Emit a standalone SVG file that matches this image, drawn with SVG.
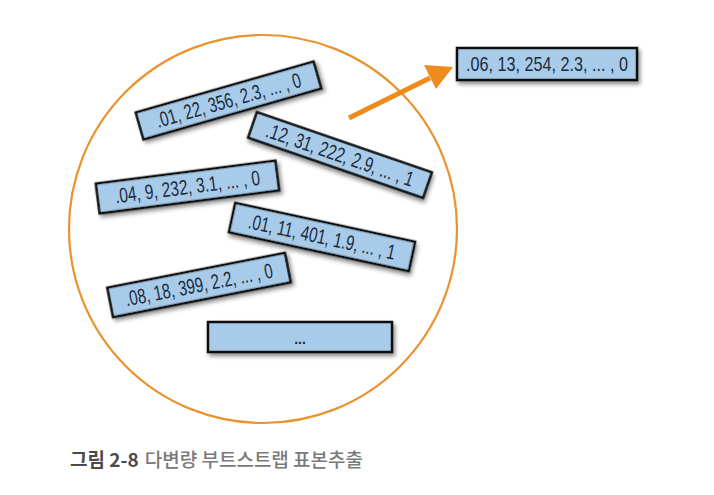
<svg xmlns="http://www.w3.org/2000/svg" width="714" height="495" viewBox="0 0 714 495">
<style>
.box{fill:#a8cbea;stroke:#111;stroke-width:2.5;filter:url(#sh)}
.lbl{font-family:"Liberation Sans Narrow","Liberation Sans",sans-serif;font-size:21px;fill:#1d2a3a;text-anchor:middle}
.cap1{font-family:"Noto Sans CJK KR","Noto Sans",sans-serif;font-size:19px;font-weight:700;fill:#4a4a4a}
.cap2{font-family:"Noto Sans CJK KR","Noto Sans",sans-serif;font-size:19px;font-weight:500;fill:#7a7a7a}
</style>
<defs>
<filter id="sh" x="-20%" y="-50%" width="140%" height="200%">
<feDropShadow dx="2" dy="3" stdDeviation="2" flood-color="#000" flood-opacity="0.45"/>
</filter>
</defs>
<rect width="714" height="495" fill="#fff"/>
<circle cx="263" cy="229" r="194" fill="none" stroke="#e9922e" stroke-width="2.2"/>
<g id="connectors">
<line x1="349" y1="118" x2="430" y2="78" stroke="#ef8a1c" stroke-width="5"/>
<path d="M453,67 L424,65 L436,89 Z" fill="#ef8a1c"/>
</g>
<g id="n1" transform="translate(228.5,100.5) rotate(-16)">
<rect class="box" x="-92.5" y="-14" width="185" height="28"/>
<text class="lbl" x="0" y="7" textLength="150" lengthAdjust="spacingAndGlyphs">.01, 22, 356, 2.3, ... , 0</text>
</g>
<g id="n2" transform="translate(340,155) rotate(19)">
<rect class="box" x="-92.5" y="-13.5" width="185" height="27"/>
<text class="lbl" x="0" y="7" textLength="155" lengthAdjust="spacingAndGlyphs">.12, 31, 222, 2.9, ... , 1</text>
</g>
<g id="n3" transform="translate(187.5,187) rotate(-7.3)">
<rect class="box" x="-90.5" y="-15" width="181" height="30"/>
<text class="lbl" x="0" y="7" textLength="146" lengthAdjust="spacingAndGlyphs">.04, 9, 232, 3.1, ... , 0</text>
</g>
<g id="n4" transform="translate(322,237) rotate(12.2)">
<rect class="box" x="-92" y="-15" width="184" height="30"/>
<text class="lbl" x="0" y="7" textLength="150" lengthAdjust="spacingAndGlyphs">.01, 11, 401, 1.9, ... , 1</text>
</g>
<g id="n5" transform="translate(199,285) rotate(-11.1)">
<rect class="box" x="-90.5" y="-15" width="181" height="30"/>
<text class="lbl" x="0" y="7" textLength="150" lengthAdjust="spacingAndGlyphs">.08, 18, 399, 2.2, ... , 0</text>
</g>
<g id="n6">
<rect class="box" x="208" y="322" width="184" height="30"/>
<text class="lbl" x="300" y="344" style="font-size:14px;font-weight:bold">...</text>
</g>
<g id="n7">
<rect class="box" x="457" y="48" width="180" height="32"/>
<text class="lbl" x="547" y="71" textLength="162" lengthAdjust="spacingAndGlyphs">.06, 13, 254, 2.3, ... , 0</text>
</g>
<text x="70" y="467"><tspan class="cap1">그림 2-8</tspan><tspan class="cap2" dx="6">다변량 부트스트랩 표본추출</tspan></text>
</svg>
